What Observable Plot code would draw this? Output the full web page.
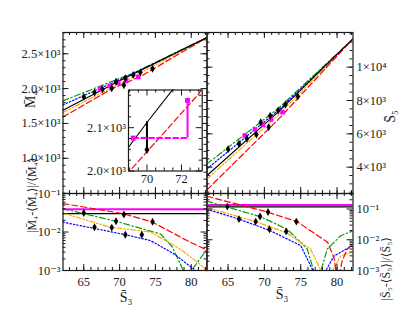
<!DOCTYPE html>
<html><head><meta charset="utf-8">
<script src="https://cdn.jsdelivr.net/npm/d3@7"></script>
<script src="https://cdn.jsdelivr.net/npm/@observablehq/plot@0.6"></script>
<style>
html,body{margin:0;padding:0;background:#fff;}
#chart{position:relative;width:415px;height:321px;overflow:hidden;background:#fff;}
#chart svg{position:absolute;left:0;top:0;background:transparent !important;color:#1a1a1a;}
#chart svg text{font-family:'Liberation Serif','DejaVu Serif',serif !important;}
</style></head><body><div id="chart"></div>
<script>
// ---------------- data ----------------
const xDomain = [62.1, 82.2];
const xTickValues = [65, 70, 75, 80];
const xTickLabels = ["65", "70", "75", "80"];
const m4Domain = [495, 2805];
const m4TickValues = [1000, 1500, 2000, 2500];
const m4TickLabels = ["1.0×10³", "1.5×10³", "2.0×10³", "2.5×10³"];
const s5Domain = [2420, 12080];
const s5TickValues = [4000, 6000, 8000, 10000];
const s5TickLabels = ["4×10³", "6×10³", "8×10³", "1×10⁴"];
const errM4Domain = [0.001, 0.1];
const errS5Domain = [0.001, 0.32];
const logTickValues = [0.001, 0.01, 0.1];
const logTickLabels = ["10⁻³", "10⁻²", "10⁻¹"];

// top-left: M4 vs S3
const m4BlackX = [62.1, 70, 82.2],        m4BlackY = [1690, 2112, 2733];
const m4RedX = [62.1, 69, 73, 82.2],      m4RedY = [1594, 2000, 2178, 2733];
const m4GreenX = [62.1, 72, 82.2],        m4GreenY = [1824, 2228, 2733];
const m4BlueX = [62.1, 72, 82.2],         m4BlueY = [1767, 2219, 2733];
const m4OrangeX = [62.1, 72, 82.2],       m4OrangeY = [1657, 2176, 2733];
const m4PtsX = [65.0, 66.5, 67.6, 68.9, 69.5, 70.6, 70.8, 71.9, 72.9, 74.6];
const m4PtsY = [1881, 1943, 1990, 2005, 2100, 2048, 2148, 2195, 2233, 2286];
const m4SqX = [67.3, 68.7, 69.8, 70.9, 72.6];
const m4SqY = [2000, 2038, 2081, 2110, 2167];

// inset
const insetXDomain = [68.93, 73.2];
const insetYDomain = [2000, 2187];
const insetXTicks = [70, 72];
const insetXLabels = ["70", "72"];
const insetYTicks = [2000, 2100];
const insetYLabels = ["2.0×10³", "2.1×10³"];
const insetPtX = [70], insetPtY = [2049], insetPtLineY = [2114];
const insetSqX = [69.2, 72.35], insetSqY = [2076, 2163];

// top-right: S5 vs S3
const s5BlackX = [62.1, 72, 82.2],  s5BlackY = [3500, 7350, 11700];
const s5RedX = [62.1, 72, 82.2],    s5RedY = [2640, 6900, 11700];
const s5GreenX = [62.1, 72, 82.2],  s5GreenY = [4200, 7560, 11700];
const s5BlueX = [62.1, 72, 82.2],   s5BlueY = [3900, 7440, 11700];
const s5OrangeX = [62.1, 72, 82.2], s5OrangeY = [3300, 7160, 11700];
const s5PtsX = [65.0, 66.5, 67.6, 68.9, 69.5, 70.6, 70.8, 71.9, 72.9, 74.6];
const s5PtsY = [5080, 5404, 5704, 5962, 6700, 6400, 7084, 7402, 7762, 8242];
const s5SqX = [67.3, 68.7, 69.8, 70.9, 72.5];
const s5SqY = [5902, 6262, 6544, 6862, 7300];

// bottom-left: relative deviation of M4
const eM4RedX = [62.1, 70.6, 74.6, 79.4, 82.2];
const eM4RedY = [0.055, 0.0297, 0.018, 0.006, 0.0034];
const eM4GreenX = [62.1, 69.5, 75.7, 77.35, 78.9, 79.6, 80.35, 82.2];
const eM4GreenY = [0.040, 0.019, 0.0089, 0.0041, 0.001, 0.0003, 0.0012, 0.0036];
const eM4OrangeX = [62.1, 68.7, 74.3, 78.5, 81.75, 82.2];
const eM4OrangeY = [0.031, 0.0133, 0.0100, 0.0036, 0.0012, 0.0009];
const eM4BlueX = [62.1, 70.8, 74.3, 77.6, 80.6, 81.0];
const eM4BlueY = [0.018, 0.0085, 0.006, 0.0027, 0.001, 0.0007];
const eM4Magenta = 0.039, eM4Black = 0.030;
const eM4PtsX = [65.0, 66.5, 68.9, 69.5, 70.6, 70.8, 73.1, 74.6];
const eM4PtsY = [0.031, 0.0133, 0.013, 0.019, 0.0285, 0.0085, 0.0085, 0.0184];

// bottom-right: relative deviation of S5
const eS5RedX = [62.1, 70.4, 74.5, 78.7, 79.6, 80.1, 80.7, 81.4, 82.2];
const eS5RedY = [0.26, 0.08, 0.039, 0.0083, 0.0025, 0.0004, 0.002, 0.005, 0.0075];
const eS5GreenX = [62.1, 69.4, 73.15, 75.9, 77.28, 78.66, 80.5, 82.2];
const eS5GreenY = [0.18, 0.057, 0.022, 0.005, 0.0004, 0.005, 0.0135, 0.0195];
const eS5OrangeX = [62.1, 68.8, 73.0, 76.36, 78.56, 80.5, 82.2];
const eS5OrangeY = [0.11, 0.039, 0.017, 0.005, 0.0004, 0.003, 0.004];
const eS5BlueX = [62.1, 66.5, 70.85, 75.0, 77.5, 79.6, 82.2];
const eS5BlueY = [0.098, 0.047, 0.0195, 0.0065, 0.0004, 0.003, 0.0065];
const eS5Magenta = 0.135, eS5Black = 0.118;
const eS5PtsX = [64.9, 66.5, 68.8, 69.4, 70.5, 70.7, 73.0, 74.4];
const eS5PtsY = [0.12, 0.047, 0.039, 0.057, 0.08, 0.022, 0.0187, 0.039];

// ---------------- layout & style ----------------
const W = 415, H = 321;
const xA = 62.5, xB = 206.5, xC = 352.5;
const yA = 32, yB = 193, yC = 270;
const INK = "#1a1a1a";
const FONT = "Liberation Serif, DejaVu Serif, serif";
const FS = 12.5;
const RED = "#ff0000", GREEN = "#00a000", BLUE = "#0000ff", ORANGE = "#ffa500", MAG = "#ff00ff";

const pts = (xs, ys) => xs.map((x, i) => ({x, y: ys[i]}));
const line = (xs, ys, stroke, dash, w = 1.2) =>
  Plot.line(pts(xs, ys), {x: "x", y: "y", stroke, strokeWidth: w, strokeDasharray: dash, clip: true});
const curves = (set) => [
  line(set.gx, set.gy, GREEN, "6,2.5,1.5,2.5"),
  line(set.bx, set.by, BLUE, "1.5,2"),
  line(set.ox, set.oy, ORANGE, "5,2,1.5,2,1.5,2"),
  line(set.rx, set.ry, RED, "6,3"),
];
const txt = {fontFamily: FONT, fontSize: FS, fill: INK};

// tick labels drawn as text marks through the scales
const xLabels = (vals, labels, dy) => Plot.text(vals, {x: d => d, frameAnchor: "bottom", dy, text: (d, i) => labels[i], ...txt});
const yLabelsL = (vals, labels) => Plot.text(vals, {y: d => d, frameAnchor: "left", dx: -2.5, textAnchor: "end", text: (d, i) => labels[i], ...txt});
const yLabelsR = (vals, labels) => Plot.text(vals, {y: d => d, frameAnchor: "right", dx: 3.5, textAnchor: "start", text: (d, i) => labels[i], ...txt});

function xTicks(major, minor, fh) {
  const out = [];
  for (const [vals, l] of [[minor, 3], [major, 6]]) {
    out.push(Plot.tickX(vals, {x: d => d, insetTop: fh - l, stroke: INK}));
    out.push(Plot.tickX(vals, {x: d => d, insetBottom: fh - l, stroke: INK}));
  }
  return out;
}
function yTicks(major, minor, fw) {
  const out = [];
  for (const [vals, l] of [[minor, 3], [major, 6]]) {
    out.push(Plot.tickY(vals, {y: d => d, insetRight: fw - l, stroke: INK}));
    out.push(Plot.tickY(vals, {y: d => d, insetLeft: fw - l, stroke: INK}));
  }
  return out;
}
const logMinor = (lo, hi) => {
  const r = [];
  for (let d = lo; d < hi * 1.0001; d *= 10) for (let k = 2; k < 10; k++) { const v = d * k; if (v <= hi * 1.0001) r.push(v); }
  return r;
};

function panel(l, t, r, b, x, y, marks) {
  return Plot.plot({
    width: W, height: H,
    marginLeft: l, marginTop: t, marginRight: W - r, marginBottom: H - b,
    x: {...x, axis: null}, y: {...y, axis: null},
    style: {background: "transparent", overflow: "visible"},
    marks
  });
}

const chart = document.getElementById("chart");
const xMinor = d3.range(62, 83, 1).filter(v => v >= xDomain[0] && v <= xDomain[1]);

// ---- top-left ----
chart.append(panel(xA, yA, xB, yB, {domain: xDomain}, {domain: m4Domain}, [
  ...curves({gx: m4GreenX, gy: m4GreenY, bx: m4BlueX, by: m4BlueY, ox: m4OrangeX, oy: m4OrangeY, rx: m4RedX, ry: m4RedY}),
  line(m4BlackX, m4BlackY, "#000", null, 1.1),
  Plot.dot(pts(m4SqX, m4SqY), {x: "x", y: "y", symbol: "square", r: 2.6, fill: MAG}),
  Plot.dot(pts(m4PtsX, m4PtsY), {x: "x", y: "y", symbol: "diamond", r: 2.4, fill: "#000"}),
  ...xTicks(xTickValues, xMinor, yB - yA),
  ...yTicks(m4TickValues, d3.range(500, 2801, 100), xB - xA),
  yLabelsL(m4TickValues, m4TickLabels),
  Plot.text(["M̄₄"], {frameAnchor: "left", dx: -32, dy: -5, rotate: -90, ...txt, fontSize: 14}),
  Plot.frame({stroke: INK, strokeWidth: 1.2})
]));

// ---- top-right ----
chart.append(panel(xB, yA, xC, yB, {domain: xDomain}, {domain: s5Domain}, [
  ...curves({gx: s5GreenX, gy: s5GreenY, bx: s5BlueX, by: s5BlueY, ox: s5OrangeX, oy: s5OrangeY, rx: s5RedX, ry: s5RedY}),
  line(s5BlackX, s5BlackY, "#000", null, 1.1),
  Plot.dot(pts(s5SqX, s5SqY), {x: "x", y: "y", symbol: "square", r: 2.6, fill: MAG}),
  Plot.dot(pts(s5PtsX, s5PtsY), {x: "x", y: "y", symbol: "diamond", r: 2.4, fill: "#000"}),
  ...xTicks(xTickValues, xMinor, yB - yA),
  ...yTicks(s5TickValues, d3.range(2500, 12001, 500), xC - xB),
  yLabelsR(s5TickValues, s5TickLabels),
  Plot.text(["S̄₅"], {frameAnchor: "right", dx: 38, dy: -3, rotate: -90, ...txt, fontSize: 14}),
  Plot.frame({stroke: INK, strokeWidth: 1.2})
]));

// ---- bottom-left ----
chart.append(panel(xA, yB, xB, yC, {domain: xDomain}, {type: "log", domain: errM4Domain}, [
  Plot.ruleY([eM4Magenta], {stroke: MAG, strokeWidth: 2}),
  Plot.ruleY([eM4Black], {stroke: "#000", strokeWidth: 1.3}),
  ...curves({gx: eM4GreenX, gy: eM4GreenY, bx: eM4BlueX, by: eM4BlueY, ox: eM4OrangeX, oy: eM4OrangeY, rx: eM4RedX, ry: eM4RedY}),
  Plot.dot(pts(eM4PtsX, eM4PtsY), {x: "x", y: "y", symbol: "diamond", r: 2.4, fill: "#000"}),
  ...xTicks(xTickValues, xMinor, yC - yB),
  ...yTicks(logTickValues, logMinor(0.001, 0.1), xB - xA),
  xLabels(xTickValues, xTickLabels, 15),
  yLabelsL(logTickValues, logTickLabels),
  Plot.text(["|M̄₄-⟨M̄₄⟩|/⟨M̄₄⟩"], {frameAnchor: "left", dx: -31, dy: 1, rotate: -90, ...txt, fontSize: 12}),
  Plot.text(["S̄₃"], {frameAnchor: "bottom", dx: -9, dy: 31, ...txt, fontSize: 14}),
  Plot.frame({stroke: INK, strokeWidth: 1.2})
]));

// ---- bottom-right ----
chart.append(panel(xB, yB, xC, yC, {domain: xDomain}, {type: "log", domain: errS5Domain}, [
  Plot.ruleY([eS5Magenta], {stroke: MAG, strokeWidth: 2}),
  Plot.ruleY([eS5Black], {stroke: "#000", strokeWidth: 1.3}),
  ...curves({gx: eS5GreenX, gy: eS5GreenY, bx: eS5BlueX, by: eS5BlueY, ox: eS5OrangeX, oy: eS5OrangeY, rx: eS5RedX, ry: eS5RedY}),
  Plot.dot(pts(eS5PtsX, eS5PtsY), {x: "x", y: "y", symbol: "diamond", r: 2.4, fill: "#000"}),
  ...xTicks(xTickValues, xMinor, yC - yB),
  ...yTicks(logTickValues, logMinor(0.001, 0.3), xC - xB),
  xLabels(xTickValues, xTickLabels, 15),
  yLabelsR(logTickValues, logTickLabels),
  Plot.text(["|S̄₅-⟨S̄₅⟩|/⟨S̄₅⟩"], {frameAnchor: "right", dx: 33, dy: 5, rotate: -90, ...txt, fontSize: 12}),
  Plot.text(["S̄₃"], {frameAnchor: "bottom", dx: 2, dy: 28, ...txt, fontSize: 14}),
  Plot.frame({stroke: INK, strokeWidth: 1.2})
]));

// ---- inset ----
const iL = 128, iT = 89.5, iR = 201.7, iB = 170.5;
chart.append(panel(iL, iT, iR, iB, {domain: insetXDomain}, {domain: insetYDomain}, [
  Plot.frame({fill: "white"}),
  line(m4RedX, m4RedY, RED, "6,3"),
  line(m4BlackX, m4BlackY, "#000", null, 1.1),
  Plot.ruleX(insetPtX, {x: d => d, y1: insetPtY[0], y2: insetPtLineY[0], stroke: "#000", strokeWidth: 2}),
  Plot.line([{x: insetSqX[0], y: insetSqY[0]}, {x: insetSqX[1], y: insetSqY[0]}], {x: "x", y: "y", stroke: MAG, strokeWidth: 2, strokeDasharray: "5,3"}),
  Plot.ruleX([insetSqX[1]], {x: d => d, y1: insetSqY[0], y2: insetSqY[1], stroke: MAG, strokeWidth: 2}),
  Plot.dot(pts(insetSqX, insetSqY), {x: "x", y: "y", symbol: "square", r: 2.8, fill: MAG}),
  Plot.dot(pts(insetPtX, insetPtY), {x: "x", y: "y", symbol: "diamond", r: 2.6, fill: "#000"}),
  ...xTicks(insetXTicks, [69, 69.5, 70.5, 71, 71.5, 72.5, 73], iB - iT),
  ...yTicks(insetYTicks, [2025, 2050, 2075, 2125, 2150, 2175], iR - iL),
  xLabels(insetXTicks, insetXLabels, 11.5),
  yLabelsL(insetYTicks, insetYLabels),
  Plot.frame({stroke: INK, strokeWidth: 1.2})
]));
</script></body></html>
